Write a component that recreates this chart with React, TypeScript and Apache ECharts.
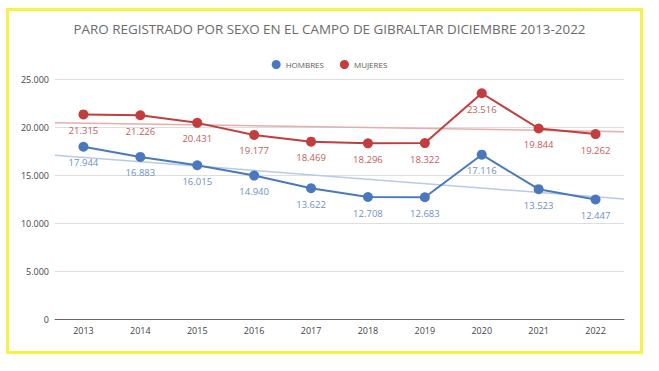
import React, { useEffect, useRef } from "react";
import * as echarts from "echarts";

const years = ["2013", "2014", "2015", "2016", "2017", "2018", "2019", "2020", "2021", "2022"];
const hombres = [17944, 16883, 16015, 14940, 13622, 12708, 12683, 17116, 13523, 12447];
const mujeres = [21315, 21226, 20431, 19177, 18469, 18296, 18322, 23516, 19844, 19262];
const yTicks = [0, 5000, 10000, 15000, 20000, 25000];

const fmt = (v: number) => String(Math.round(v)).replace(/\B(?=(\d{3})+(?!\d))/g, ".");

function trend(vals: number[]): number[][] {
  const n = vals.length;
  const mx = (n - 1) / 2;
  const my = vals.reduce((a, b) => a + b, 0) / n;
  let sxy = 0;
  let sxx = 0;
  vals.forEach((v, i) => {
    sxy += (i - mx) * (v - my);
    sxx += (i - mx) * (i - mx);
  });
  const b = sxy / sxx;
  const a = my - b * mx;
  return [
    [-0.5, a + b * -0.5],
    [n - 0.5, a + b * (n - 0.5)],
  ];
}

const FONT = "Open Sans";
const BLUE = "#4a78bf";
const RED = "#c23d3d";

export default function App() {
  const ref = useRef<HTMLDivElement>(null);
  useEffect(() => {
    if (!ref.current) return;
    const chart = echarts.init(ref.current, undefined, { renderer: "svg" });
    chart.setOption({
      animation: false,
      backgroundColor: "#ffffff",
      textStyle: { fontFamily: FONT },
      title: {
        text: "PARO REGISTRADO POR SEXO EN EL CAMPO DE GIBRALTAR DICIEMBRE 2013-2022",
        left: "center",
        top: 17,
        textStyle: { fontFamily: FONT, fontSize: 13.4, fontWeight: "normal", color: "#6a6a6a" },
      },
      legend: {
        data: ["HOMBRES", "MUJERES"],
        top: 55,
        left: "center",
        icon: "circle",
        itemWidth: 9,
        itemHeight: 9,
        itemGap: 16,
        textStyle: { fontFamily: FONT, fontSize: 8, color: "#5a5a5a" },
      },
      graphic: [
        {
          type: "rect",
          shape: { x: 7.5, y: 9.5, width: 634, height: 343 },
          style: { fill: "none", stroke: "#f5f34a", lineWidth: 3 },
          silent: true,
        },
        {
          type: "line",
          shape: { x1: 6, y1: 352.5, x2: 643, y2: 352.5 },
          style: { stroke: "#f5f34a", lineWidth: 3 },
          silent: true,
        },
      ],
      grid: { left: 55, right: 35, top: 79, bottom: 52 },
      xAxis: [
        {
          type: "category",
          data: years,
          boundaryGap: true,
          axisLine: { lineStyle: { color: "#666", width: 1 } },
          axisTick: { show: false },
          axisLabel: { fontFamily: FONT, fontSize: 9, color: "#444", margin: 7 },
        },
        { type: "value", min: -0.5, max: years.length - 0.5, show: false },
      ],
      yAxis: {
        type: "value",
        min: yTicks[0],
        max: yTicks[yTicks.length - 1],
        interval: 5000,
        axisLine: { show: false },
        axisTick: { show: false },
        axisLabel: { fontFamily: FONT, fontSize: 9, color: "#444", margin: 6, formatter: (v: number) => fmt(v) },
        splitLine: { lineStyle: { color: "#dedede", width: 1 } },
      },
      series: [
        {
          name: "HOMBRES-trend",
          type: "line",
          xAxisIndex: 1,
          data: trend(hombres),
          symbol: "none",
          silent: true,
          lineStyle: { color: "#b9cae6", width: 1.5 },
          z: 1,
        },
        {
          name: "MUJERES-trend",
          type: "line",
          xAxisIndex: 1,
          data: trend(mujeres),
          symbol: "none",
          silent: true,
          lineStyle: { color: "#e9acac", width: 1.5 },
          z: 1,
        },
        {
          name: "HOMBRES",
          type: "line",
          data: hombres,
          symbol: "circle",
          symbolSize: 10,
          itemStyle: { color: BLUE },
          lineStyle: { color: BLUE, width: 2 },
          label: {
            show: true,
            position: "bottom",
            distance: 6,
            fontFamily: FONT,
            fontSize: 9.5,
            color: "#6f8fc6",
            formatter: (p: any) => fmt(p.value),
          },
          z: 3,
        },
        {
          name: "MUJERES",
          type: "line",
          data: mujeres,
          symbol: "circle",
          symbolSize: 10,
          itemStyle: { color: RED },
          lineStyle: { color: RED, width: 2 },
          label: {
            show: true,
            position: "bottom",
            distance: 6,
            fontFamily: FONT,
            fontSize: 9.5,
            color: "#c45b5b",
            formatter: (p: any) => fmt(p.value),
          },
          z: 3,
        },
      ],
    });
    return () => chart.dispose();
  }, []);
  return <div ref={ref} style={{ position: "fixed", left: 0, top: 0, width: 659, height: 371 }} />;
}
